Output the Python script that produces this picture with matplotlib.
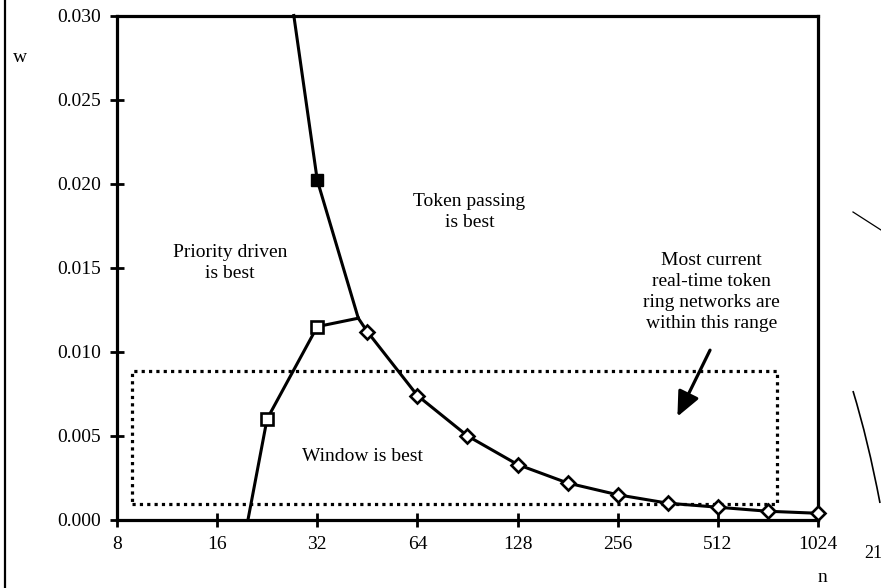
import numpy as np
import matplotlib
matplotlib.use("Agg")
import matplotlib.pyplot as plt
from matplotlib.lines import Line2D
from matplotlib.path import Path
from matplotlib.patches import PathPatch

plt.rcParams['font.family'] = ['Liberation Serif', 'DejaVu Serif']

# priority driven / window boundary (open squares)
lower_n = [19.8, 22.6, 32.0, 42.5]
lower_w = [0.0, 0.0060, 0.0115, 0.0120]
lower_marked = [1, 2]

# token passing / priority boundary (filled square)
upper_n = [27.2, 32.0, 42.5]
upper_w = [0.030, 0.0202, 0.0120]

# token passing / window boundary (diamonds)
diam_n = [42.5, 45.25, 64, 90.5, 128, 181, 256, 362, 512, 724, 1024]
diam_w = [0.0120, 0.0112, 0.0074, 0.0050, 0.0033, 0.0022, 0.0015, 0.0010, 0.00076, 0.00052, 0.0004]

# "most current networks" range box
box_n = [8.9, 770]
box_w = [0.00095, 0.00887]

# arrow tail -> tip
arrow_tail = (485, 0.0101)
arrow_tip = (387, 0.00615)

xticks = [8, 16, 32, 64, 128, 256, 512, 1024]
yticks = [0.000, 0.005, 0.010, 0.015, 0.020, 0.025, 0.030]

fs = 14

fig = plt.figure(figsize=(8.81, 5.88), dpi=100)
ax = fig.add_axes([117/881, 1 - 520/588, (818 - 117)/881, (520 - 15.5)/588])

# dotted box first so the curves sit on top
bx = [box_n[0], box_n[1], box_n[1], box_n[0], box_n[0]]
by = [box_w[0], box_w[0], box_w[1], box_w[1], box_w[0]]
ax.plot(bx, by, color='black', lw=2.3, linestyle=(0, (1, 1.3)), zorder=2)

ax.plot(upper_n, upper_w, color='black', lw=2.2, zorder=3, clip_on=False)
ax.plot(upper_n[1], upper_w[1], marker='s', ms=9, color='black', zorder=5)

ax.plot(lower_n, lower_w, color='black', lw=2.2, zorder=3)
ax.plot([lower_n[i] for i in lower_marked], [lower_w[i] for i in lower_marked],
        linestyle='none', marker='s', ms=9, mfc='white', mec='black', mew=1.9, zorder=5)

ax.plot(diam_n, diam_w, color='black', lw=2.2, zorder=3, clip_on=False)
ax.plot(diam_n[1:], diam_w[1:], linestyle='none', marker='D', ms=7.5,
        mfc='white', mec='black', mew=1.9, zorder=5, clip_on=False)

ax.annotate('', xy=arrow_tip, xytext=arrow_tail,
            arrowprops=dict(arrowstyle='-|>,head_length=0.6,head_width=0.27',
                            lw=2.3, color='black', mutation_scale=25,
                            shrinkA=0, shrinkB=0))

ax.text(17.5, 0.01527, "Priority driven\nis best", ha='center', va='center',
        fontsize=fs, linespacing=1.3)
ax.text(91.8, 0.01833, "Token passing\nis best", ha='center', va='center',
        fontsize=fs, linespacing=1.3)
ax.text(43.7, 0.00377, "Window is best", ha='center', va='center', fontsize=fs)
ax.text(489, 0.01354, "Most current\nreal-time token\nring networks are\nwithin this range",
        ha='center', va='center', fontsize=fs, linespacing=1.3)

ax.set_xscale('log', base=2)
ax.set_xlim(8, 1024)
ax.set_ylim(0, 0.030)
ax.set_xticks(xticks)
ax.set_xticklabels([str(t) for t in xticks])
ax.minorticks_off()
ax.set_yticks(yticks)
ax.set_yticklabels(["%.3f" % t for t in yticks])
ax.tick_params(direction='inout', length=10, width=2, labelsize=fs, pad=6.5)

for s in ax.spines.values():
    s.set_linewidth(2.3)

fig.text(20/881, 1 - 57/588, "w", ha='center', va='center', fontsize=fs)
fig.text(822/881, 1 - 577/588, "n", ha='center', va='center', fontsize=fs)
fig.text(864/881, 1 - 554/588, "21", ha='left', va='center', fontsize=fs - 1)

# page decorations
fig.add_artist(Line2D([5/881, 5/881], [0, 1], color='black', lw=1.6))
fig.add_artist(Line2D([853/881, 881/881], [1 - 212/588, 1 - 230/588], color='black', lw=0.9))
verts = [(853/881, 1 - 391/588), (868/881, 1 - 440/588), (880/881, 1 - 503/588)]
arc = PathPatch(Path(verts, [Path.MOVETO, Path.CURVE3, Path.CURVE3]),
                transform=fig.transFigure, fill=False, lw=1.2, color='black')
fig.add_artist(arc)

fig.savefig("out.png", dpi=100)
